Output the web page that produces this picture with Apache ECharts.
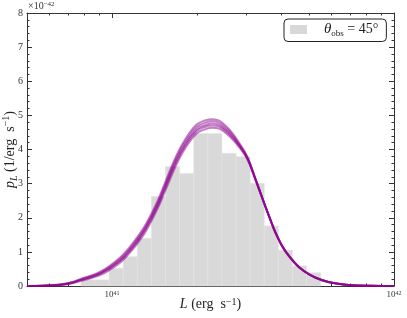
<!DOCTYPE html>
<html>
<head>
<meta charset="utf-8">
<script src="https://cdn.jsdelivr.net/npm/echarts@6/dist/echarts.min.js"></script>
<style>html,body{margin:0;padding:0;background:#fff;}#c{width:407px;height:318px;}</style>
</head>
<body>
<div id="c"></div>
<script>
// ---- data (x values are log10 L, L in erg s^-1; y in units of 1e-42 per erg s^-1) ----
const X_MIN = 40.69897;   // log10(5e40)
const X_MAX = 42;
const majorXTicks = [41, 42];
const minorXTicks = [40.77815, 40.84510, 40.90309, 40.95424,
  41.30103, 41.47712, 41.60206, 41.69897, 41.77815, 41.84510, 41.90309, 41.95424];
const yTicks = [0, 1, 2, 3, 4, 5, 6, 7, 8];

// histogram (bin edges in log10 L, heights)
const binEdges = [40.89, 40.94, 40.99, 41.04, 41.09, 41.14, 41.19, 41.24, 41.29,
  41.34, 41.39, 41.44, 41.49, 41.54, 41.59, 41.64, 41.69, 41.74];
const binHeights = [0.18, 0.18, 0.52, 0.86, 1.40, 2.62, 3.50, 3.30, 4.47,
  4.47, 3.89, 3.79, 3.01, 1.76, 1.05, 0.59, 0.39];

// posterior density curves
const curveX = [40.699, 40.76, 40.82, 40.86, 40.89, 40.93, 40.96, 40.99, 41.03, 41.06, 41.09, 41.12,
  41.16, 41.19, 41.23, 41.26, 41.30, 41.33, 41.355, 41.38, 41.42, 41.45, 41.48, 41.51, 41.54, 41.56,
  41.58, 41.61, 41.65, 41.68, 41.72, 41.77, 41.84, 41.92, 42.0];
const curveA = [0, 0.01, 0.04, 0.10, 0.18, 0.28, 0.38, 0.52, 0.76, 1.02, 1.33, 1.70,
  2.34, 2.93, 3.71, 4.16, 4.59, 4.71, 4.76, 4.72, 4.45, 4.14, 3.75, 3.10, 2.42, 1.98,
  1.56, 1.08, 0.66, 0.44, 0.25, 0.11, 0.03, 0.005, 0];
const curveB = [0, 0.013, 0.05, 0.12, 0.21, 0.32, 0.43, 0.58, 0.84, 1.11, 1.43, 1.81,
  2.46, 3.06, 3.85, 4.30, 4.73, 4.85, 4.89, 4.85, 4.55, 4.21, 3.79, 3.12, 2.43, 1.98,
  1.56, 1.08, 0.66, 0.44, 0.25, 0.11, 0.03, 0.005, 0];
const curveC = [0, 0.008, 0.03, 0.08, 0.15, 0.24, 0.33, 0.46, 0.69, 0.94, 1.24, 1.60,
  2.23, 2.81, 3.58, 4.04, 4.47, 4.59, 4.64, 4.61, 4.36, 4.08, 3.71, 3.08, 2.41, 1.98,
  1.57, 1.09, 0.67, 0.45, 0.26, 0.115, 0.032, 0.005, 0];
const curveD = [0, 0.011, 0.045, 0.11, 0.195, 0.30, 0.40, 0.55, 0.80, 1.06, 1.38, 1.75,
  2.40, 3.00, 3.78, 4.23, 4.66, 4.78, 4.83, 4.79, 4.50, 4.17, 3.77, 3.11, 2.42, 1.98,
  1.56, 1.08, 0.66, 0.44, 0.25, 0.11, 0.03, 0.005, 0];
const curveE = [0, 0.009, 0.035, 0.09, 0.17, 0.26, 0.36, 0.50, 0.74, 0.99, 1.30, 1.67,
  2.30, 2.89, 3.66, 4.11, 4.54, 4.66, 4.70, 4.67, 4.41, 4.12, 3.74, 3.10, 2.42, 1.98,
  1.56, 1.08, 0.66, 0.44, 0.25, 0.11, 0.03, 0.005, 0];
const curves = [curveC, curveE, curveA, curveD, curveB];

const legendName = 'theta45';

// ---- chart ----
const FONT = '"Liberation Serif", "DejaVu Serif", serif';
const AX = '#333';
const chart = echarts.init(document.getElementById('c'), null, {renderer: 'canvas'});

const histData = binHeights.map((h, i) => [binEdges[i], binEdges[i + 1], h]);

function baseX(pos, ticks, len, showLine) {
  return {
    type: 'value', position: pos, min: X_MIN, max: X_MAX,
    axisLine: {show: showLine, onZero: false, lineStyle: {color: AX, width: 1}},
    axisTick: {show: true, inside: true, length: len, customValues: ticks, lineStyle: {color: AX, width: 1}},
    axisLabel: {show: false},
    splitLine: {show: false}
  };
}

const xBottomMajor = baseX('bottom', majorXTicks, 5, true);
xBottomMajor.axisLabel = {
  show: true, customValues: majorXTicks, margin: 4, color: '#333', fontFamily: FONT, fontSize: 9,
  formatter: v => '10{sup|' + Math.round(v) + '}',
  rich: {sup: {fontSize: 6, fontFamily: FONT, color: '#333', verticalAlign: 'top', lineHeight: 6, padding: [0, 0, 4, 0]}}
};
xBottomMajor.name = '{i|L} (erg  s{sup|−1})';
xBottomMajor.nameLocation = 'middle';
xBottomMajor.nameGap = 11;
xBottomMajor.nameMoveOverlap = false;
xBottomMajor.nameTextStyle = {
  fontFamily: FONT, fontSize: 14, color: '#222', verticalAlign: 'top',
  rich: {
    i: {fontFamily: FONT, fontSize: 14, fontStyle: 'italic', color: '#222'},
    sup: {fontFamily: FONT, fontSize: 10, color: '#222', verticalAlign: 'top', lineHeight: 10}
  }
};

function baseY(pos, showLabels) {
  return {
    type: 'value', position: pos, min: 0, max: 8, interval: 1,
    axisLine: {show: true, onZero: false, lineStyle: {color: AX, width: 1}},
    axisTick: {show: true, inside: true, length: 5, lineStyle: {color: AX, width: 1}},
    minorTick: {show: true, splitNumber: 5, length: 2.5, lineStyle: {color: AX, width: 1}},
    axisLabel: {show: showLabels, margin: 4, color: '#333', fontFamily: FONT, fontSize: 10},
    splitLine: {show: false}, minorSplitLine: {show: false}
  };
}
const yLeft = baseY('left', true);
yLeft.name = '{i|p}{sub|L} (1/erg  s{sup|−1})';
yLeft.nameLocation = 'middle';
yLeft.nameGap = 8;
yLeft.nameRotate = 90;
yLeft.nameMoveOverlap = false;
yLeft.nameTextStyle = {
  fontFamily: FONT, fontSize: 14, color: '#222',
  rich: {
    i: {fontFamily: FONT, fontSize: 14, fontStyle: 'italic', color: '#222', lineHeight: 18},
    sub: {fontFamily: FONT, fontSize: 10, fontStyle: 'italic', color: '#222', verticalAlign: 'bottom', lineHeight: 10},
    sup: {fontFamily: FONT, fontSize: 10, color: '#222', verticalAlign: 'top', lineHeight: 10}
  }
};
const yRight = baseY('right', false);

const lineSeries = curves.map((c, k) => ({
  type: 'line', xAxisIndex: 0, yAxisIndex: 0,
  data: curveX.map((x, i) => [x, c[i]]),
  showSymbol: false, smooth: 0.4, clip: false,
  lineStyle: {color: '#8b008b', width: 2, opacity: 0.5},
  silent: true, z: 5 + k
}));

chart.setOption({
  animation: false,
  backgroundColor: '#fff',
  grid: {left: 27, right: 13, top: 13, bottom: 32, containLabel: false, outerBoundsMode: 'none'},
  xAxis: [
    xBottomMajor,
    baseX('bottom', minorXTicks, 2.5, false),
    baseX('top', majorXTicks, 5, true),
    baseX('top', minorXTicks, 2.5, false)
  ],
  yAxis: [yLeft, yRight],
  legend: {
    show: true, left: 284, top: 19,
    orient: 'horizontal',
    padding: [3, 8, 3, 6],
    itemWidth: 17, itemHeight: 9,
    borderColor: '#222', borderWidth: 1, borderRadius: 4, backgroundColor: '#fff',
    data: [{name: legendName, icon: 'rect', itemStyle: {color: '#d8d8d8'}}],
    formatter: () => '{g|}{t|θ}{s|obs}{n| = 45°}',
    textStyle: {
      fontFamily: FONT, fontSize: 14, color: '#222',
      rich: {
        g: {width: 12},
        t: {fontFamily: FONT, fontSize: 15, fontStyle: 'italic', color: '#222', lineHeight: 18},
        s: {fontFamily: FONT, fontSize: 9, color: '#222', verticalAlign: 'bottom', lineHeight: 9},
        n: {fontFamily: FONT, fontSize: 14, color: '#222', lineHeight: 18}
      }
    }
  },
  graphic: [{
    type: 'text', left: 28, top: 1,
    style: {
      text: '×10{sup|−42}', fontFamily: FONT, fontSize: 10, fill: '#333',
      rich: {sup: {fontFamily: FONT, fontSize: 7, fill: '#333', verticalAlign: 'top', lineHeight: 7}}
    }
  }],
  series: [{
    name: legendName, type: 'custom', xAxisIndex: 0, yAxisIndex: 0,
    data: histData, encode: {x: [0, 1], y: 2},
    itemStyle: {color: '#d8d8d8'},
    renderItem: (params, api) => {
      const p0 = api.coord([api.value(0), 0]);
      const p1 = api.coord([api.value(1), api.value(2)]);
      return {
        type: 'rect',
        shape: {x: p0[0], y: p1[1], width: p1[0] - p0[0], height: p0[1] - p1[1]},
        style: {fill: '#d9d9d9', stroke: '#e4e4e4', lineWidth: 0.6}
      };
    },
    silent: true, z: 1
  }].concat(lineSeries)
});
</script>
</body>
</html>
